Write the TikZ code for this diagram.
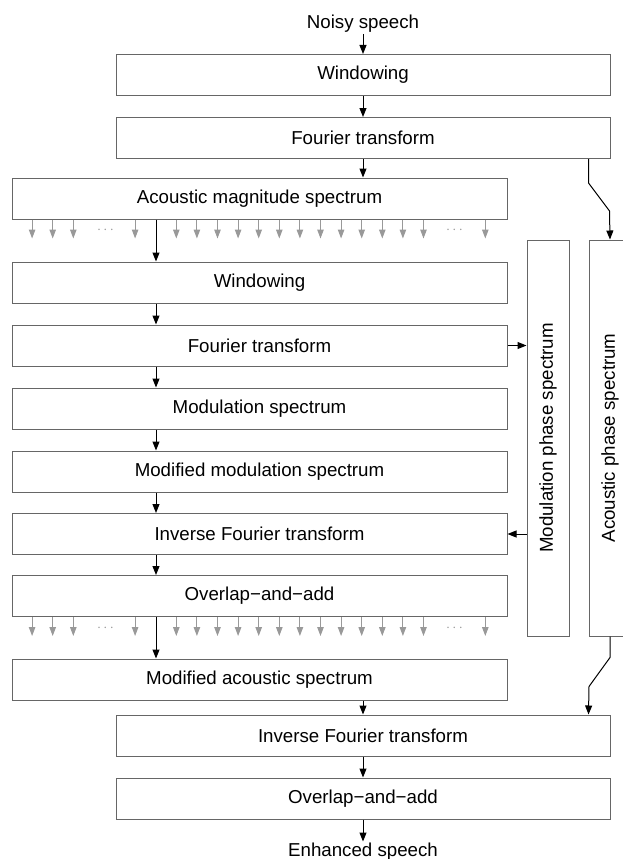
\documentclass[tikz,border=0pt]{standalone}
\usepackage{fontspec}
\setmainfont{Liberation Sans}
\usetikzlibrary{arrows.meta, positioning}

\begin{document}
\begin{tikzpicture}[
    x=1pt, y=-1pt,
    node distance=21pt,
    font=\fontsize{18.7}{22}\selectfont,
    block/.style={rectangle, draw=black!60, line width=1pt, minimum height=41pt, inner sep=0pt},
    wide/.style={block, minimum width=494pt},
    stage/.style={block, minimum width=495pt},
    phase/.style={block, rotate=90, minimum width=396pt, minimum height=42pt},
    label/.style={inner sep=1pt},
    arrow/.style={line width=1pt, -{Triangle[length=9pt, width=7pt]}},
    tick/.style={line width=1pt, black!40, -{Triangle[length=9pt, width=6.5pt]}},
    gap/.style={black!40, font=\fontsize{15}{16}\selectfont}
]
\useasboundingbox (0,0) rectangle (623,859);

% outer chain
\node[wide] (win1) at (363,75) {Windowing};
\node[label, above=20pt of win1] (noisy) {Noisy speech};
\node[wide, below=of win1] (ft1) {Fourier transform};

% modulation chain
\node[stage] (ams) at (259.5,198.5) {Acoustic magnitude spectrum};
\node[stage, below=42pt of ams] (win2) {Windowing};
\node[stage, below=of win2] (ft2) {Fourier transform};
\node[stage, below=of ft2] (ms) {Modulation spectrum};
\node[stage, below=of ms] (mms) {Modified modulation spectrum};
\node[stage, below=20.5pt of mms] (ifft2) {Inverse Fourier transform};
\node[stage, below=20pt of ifft2] (oaa2) {Overlap\textminus and\textminus add};
\node[stage, below=41.5pt of oaa2] (mas) {Modified acoustic spectrum};

% phase boxes
\node[phase] (mph) at (548,438) {Modulation phase spectrum};
\node[phase] (aph) at (610,438) {Acoustic phase spectrum};

% synthesis
\node[wide] (ifft3) at (363,735.5) {Inverse Fourier transform};
\node[wide, below=of ifft3] (oaa3) {Overlap\textminus and\textminus add};
\node[label, below=22pt of oaa3] (enh) {Enhanced speech};

\draw[arrow] (noisy) -- (win1);
\draw[arrow] (win1) -- (ft1);
\draw[arrow] (ft1) -- (ft1.south |- ams.north);

% frame-wise branches
\foreach \j in {1,2,3,6,8,9,...,20,23} {
  \draw[tick] ([xshift={20.6pt*\j}]ams.south west) -- ++(0,19);
  \draw[tick] ([xshift={20.6pt*\j}]oaa2.south west) -- ++(0,19);
}
\node[gap] (dotsA) at ([xshift=94pt, yshift=-11pt]ams.south west) {$\cdots$};
\node[gap] (dotsB) at ([xshift=443pt, yshift=-11pt]ams.south west) {$\cdots$};
\node[gap] (dotsC) at ([xshift=94pt, yshift=-11pt]oaa2.south west) {$\cdots$};
\node[gap] (dotsD) at ([xshift=443pt, yshift=-11pt]oaa2.south west) {$\cdots$};

\draw[arrow] ([xshift=-103.5pt]ams.south) -- ([xshift=-103.5pt]win2.north);
\draw[arrow] ([xshift=-103.5pt]win2.south) -- ([xshift=-103.5pt]ft2.north);
\draw[arrow] ([xshift=-103.5pt]ft2.south) -- ([xshift=-103.5pt]ms.north);
\draw[arrow] ([xshift=-103.5pt]ms.south) -- ([xshift=-103.5pt]mms.north);
\draw[arrow] ([xshift=-103.5pt]mms.south) -- ([xshift=-103.5pt]ifft2.north);
\draw[arrow] ([xshift=-103.5pt]ifft2.south) -- ([xshift=-103.5pt]oaa2.north);
\draw[arrow] ([xshift=-103.5pt]oaa2.south) -- ([xshift=-103.5pt]mas.north);
\draw[arrow] (mas.south -| ifft3.north) -- (ifft3.north);
\draw[arrow] (ifft3) -- (oaa3);
\draw[arrow] (oaa3) -- (enh);

% phase paths
\draw[arrow] (ft2.east) -- (ft2.east -| mph.north);
\draw[arrow] (ifft2.east -| mph.north) -- (ifft2.east);
\draw[arrow] (ft1.south -| aph.north) -- ++(0,24) -- ++(21,28) -- (aph.east);
\draw[arrow] (aph.west) -- ++(0,21) -- ++(-21,29) -- (ifft3.north -| aph.north);

\end{tikzpicture}
\end{document}
